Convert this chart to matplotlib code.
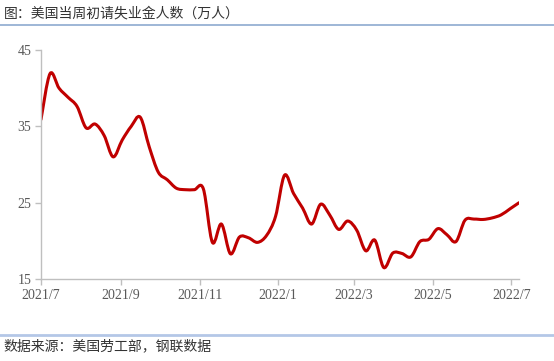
import numpy as np
import pandas as pd
import matplotlib
matplotlib.use("Agg")
import matplotlib.pyplot as plt
import matplotlib.dates as mdates
from matplotlib.path import Path
from matplotlib.patches import PathPatch
from matplotlib.lines import Line2D

plt.rcParams['font.family'] = ['Noto Sans CJK SC', 'DejaVu Sans']

# weekly initial jobless claims, 10k persons
weeks = pd.date_range("2021-07-01", periods=54, freq="7D")
claims = [35.9, 41.9, 40.0, 38.8, 37.6, 34.8, 35.3, 33.8, 31.0, 33.2,
          35.0, 36.2, 32.3, 29.0, 28.0, 26.9, 26.7, 26.7, 26.8, 19.8,
          22.2, 18.3, 20.5, 20.4, 19.8, 20.7, 23.2, 28.6, 26.2, 24.3,
          22.2, 24.8, 23.4, 21.5, 22.6, 21.4, 18.7, 20.1, 16.5, 18.4,
          18.35, 17.9, 19.9, 20.2, 21.6, 20.8, 19.9, 22.7, 22.85, 22.8,
          23.0, 23.4, 24.2, 25.0]
tick_dates = pd.to_datetime(["2021-07-01", "2021-09-01", "2021-11-01", "2022-01-01",
                             "2022-03-01", "2022-05-01", "2022-07-01"])
tick_labels = ["2021/7", "2021/9", "2021/11", "2022/1", "2022/3", "2022/5", "2022/7"]
y_ticks = [15, 25, 35, 45]

fig = plt.figure(figsize=(5.54, 3.61), dpi=100)
ax = fig.add_axes([0.074, 0.2271, 0.863, 0.6344])

# smooth line (catmull-rom -> bezier), like excel's smoothed line
xs = mdates.date2num(weeks)
ys = np.array(claims)
pts = np.column_stack([xs, ys])
verts = [pts[0]]
codes = [Path.MOVETO]
n = len(pts)
for i in range(n - 1):
    p0 = pts[max(i - 1, 0)]
    p1 = pts[i]
    p2 = pts[i + 1]
    p3 = pts[min(i + 2, n - 1)]
    c1 = p1 + (p2 - p0) / 6.0
    c2 = p2 - (p3 - p1) / 6.0
    verts += [c1, c2, p2]
    codes += [Path.CURVE4] * 3
ax.add_patch(PathPatch(Path(verts, codes), facecolor="none", edgecolor="#c00000",
                       lw=2.2, capstyle="round", joinstyle="round"))

ax.set_xlim(xs[0], xs[-1])
ax.set_ylim(15, 45)
ax.set_xticks(mdates.date2num(tick_dates))
ax.set_xticklabels(tick_labels)
ax.set_yticks(y_ticks)

for s in ["top", "right"]:
    ax.spines[s].set_visible(False)
for s in ["left", "bottom"]:
    ax.spines[s].set_color("#bfbfbf")
    ax.spines[s].set_linewidth(1.0)
ax.tick_params(axis="both", colors="#bfbfbf", length=4, width=1.0, direction="out",
               labelcolor="#595959", labelsize=10)
for lab in ax.get_xticklabels() + ax.get_yticklabels():
    lab.set_family("Liberation Serif")
ax.tick_params(axis="x", pad=3)
ax.tick_params(axis="y", pad=3)

# header and footer
fig.text(0.007, 0.963, "图：美国当周初请失业金人数（万人）", fontsize=10, color="#333333",
         va="center", ha="left")
fig.add_artist(Line2D([0, 1], [1 - 25 / 361, 1 - 25 / 361], transform=fig.transFigure,
                      color="#8eaad0", lw=1.2))
fig.add_artist(Line2D([0, 1], [1 - 335 / 361, 1 - 335 / 361], transform=fig.transFigure,
                      color="#b4c7e7", lw=2.0))
fig.text(0.007, 1 - 346 / 361, "数据来源：美国劳工部，钢联数据", fontsize=10, color="#333333",
         va="center", ha="left")

fig.savefig("out.png", dpi=100, facecolor="white")
